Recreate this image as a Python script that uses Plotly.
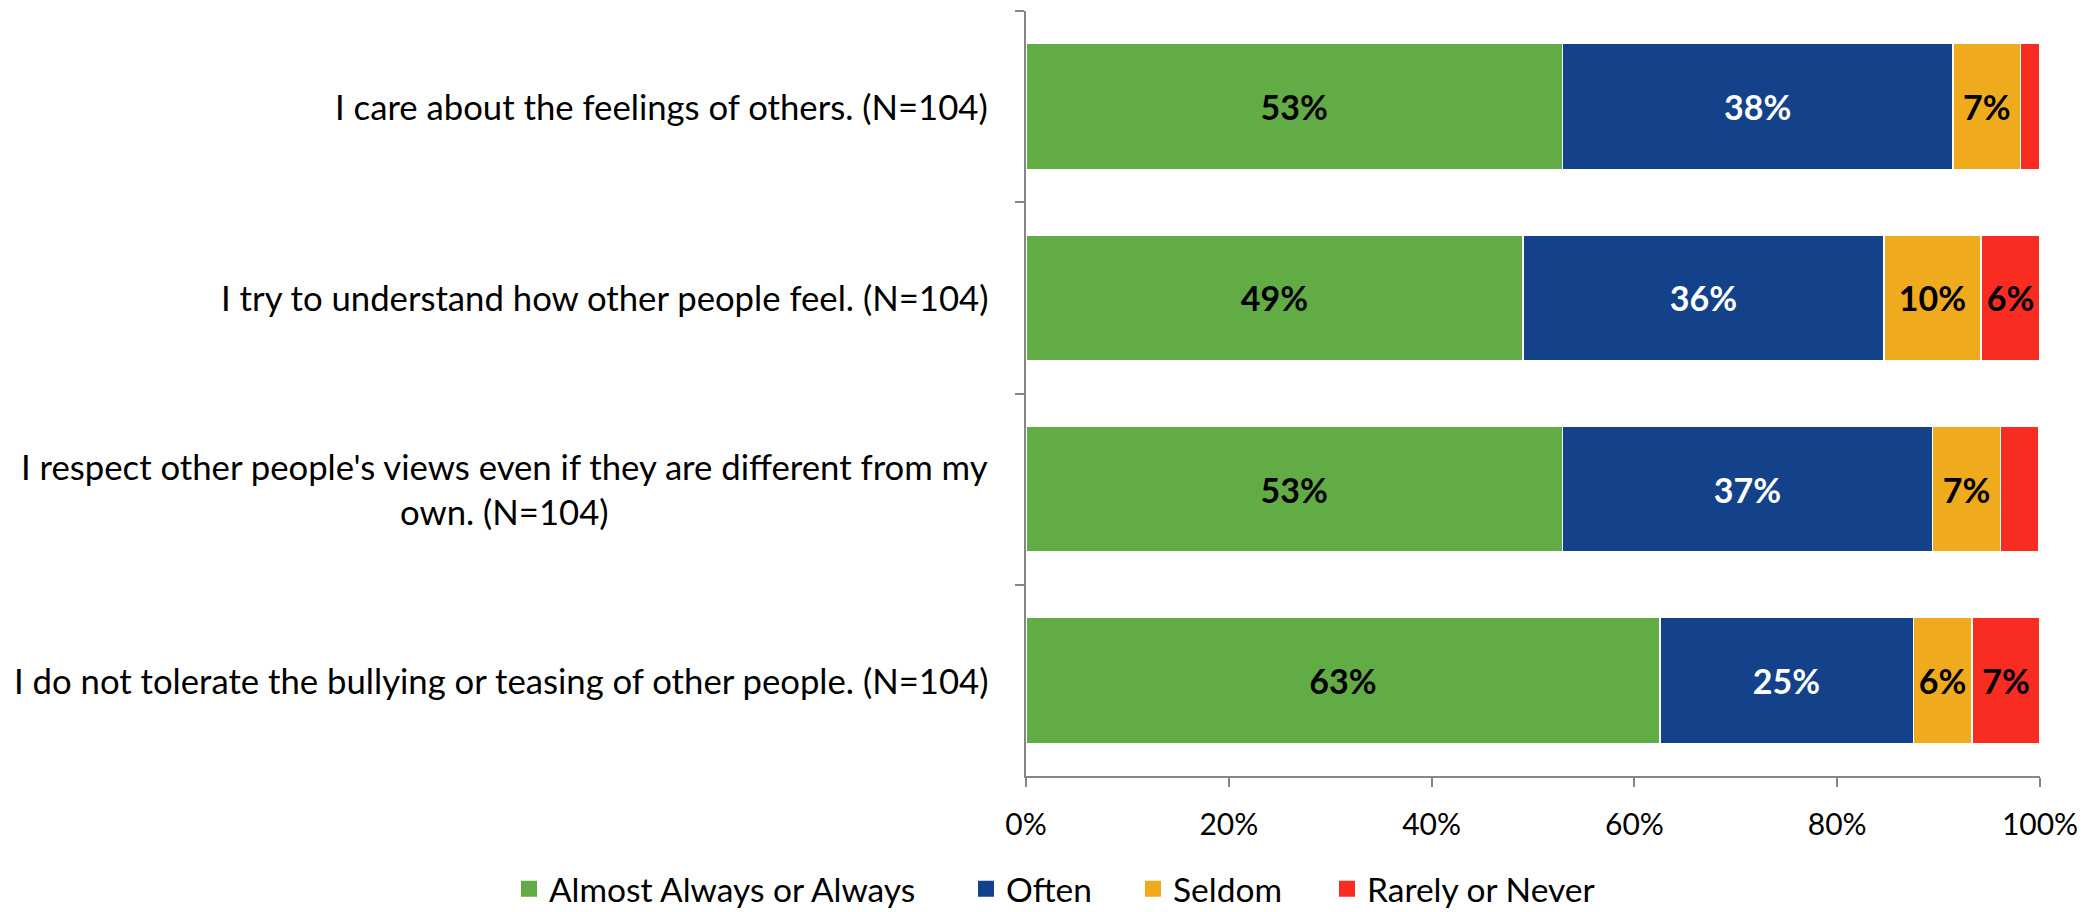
import plotly.graph_objects as go

categories = [
    "I care about the feelings of others. (N=104)",
    "I try to understand how other people feel. (N=104)",
    "I respect other people's views even if they are different from my<br>own. (N=104)",
    "I do not tolerate the bullying or teasing of other people. (N=104)",
]
series_names = ["Almost Always or Always", "Often", "Seldom", "Rarely or Never"]
almost_always = [52.9, 49.0, 52.9, 62.5]
often = [38.5, 35.6, 36.5, 25.0]
seldom = [6.7, 9.6, 6.7, 5.8]
rarely = [1.9, 5.8, 3.8, 6.7]
labels_almost = ["53%", "49%", "53%", "63%"]
labels_often = ["38%", "36%", "37%", "25%"]
labels_seldom = ["7%", "10%", "7%", "6%"]
labels_rarely = ["", "6%", "", "7%"]
x_ticks = [0, 20, 40, 60, 80, 100]
x_tick_text = ["0%", "20%", "40%", "60%", "80%", "100%"]

colors = ["#62AC46", "#13428A", "#F0AA1D", "#F92C22"]
text_colors = ["#000000", "#FFFFFF", "#000000", "#000000"]
values = [almost_always, often, seldom, rarely]
labels = [labels_almost, labels_often, labels_seldom, labels_rarely]

FONT = "Lato, 'Open Sans', sans-serif"
FS_CAT = 34.7
FS = 34
FS_LEG = 33.5
FS_TICK = 30
W, H = 2097, 912

# legend entry positions (px from left of page)
legend_text_x = [549, 1006, 1173, 1367]
legend_center_y = 889

fig = go.Figure()
for name, vals, txt, col, tcol in zip(series_names, values, labels, colors, text_colors):
    fig.add_trace(go.Bar(
        y=categories, x=vals, name=name, orientation="h",
        marker=dict(color=col, line=dict(color="white", width=1.5)),
        text=txt, textposition="inside", insidetextanchor="middle", textangle=0,
        textfont=dict(family=FONT, size=FS, color=tcol, weight="bold"),
        cliponaxis=False, hoverinfo="skip", showlegend=False,
    ))

legend_keys = ["legend", "legend2", "legend3", "legend4"]
for name, col, lk in zip(series_names, colors, legend_keys):
    fig.add_trace(go.Scatter(
        x=[None], y=[None], mode="markers", name=name, legend=lk,
        marker=dict(symbol="square", size=16, color=col, line=dict(width=0)),
        hoverinfo="skip", showlegend=True,
    ))

for c in categories:
    fig.add_annotation(
        x=0, xref="paper", y=c, yref="y", text=c, showarrow=False,
        xanchor="right", align="center", xshift=-36,
        font=dict(family=FONT, size=FS_CAT, color="#000000"),
    )

legend_layout = {}
for lk, tx in zip(legend_keys, legend_text_x):
    legend_layout[lk] = dict(
        orientation="h", xref="container", yref="container",
        x=(tx - 40) / W, xanchor="left",
        y=1 - legend_center_y / H, yanchor="middle",
        font=dict(family=FONT, size=FS_LEG, color="#000000"),
        itemsizing="trace", bgcolor="rgba(0,0,0,0)", borderwidth=0,
    )

fig.update_layout(
    barmode="stack",
    bargap=0.34,
    width=W, height=H,
    margin=dict(l=1026, r=57, t=11, b=136),
    paper_bgcolor="white", plot_bgcolor="white",
    font=dict(family=FONT, size=FS, color="#000000"),
    uniformtext=dict(minsize=FS, mode="show"),
    showlegend=True,
    **legend_layout,
)
fig.update_xaxes(
    range=[0, 100], tickvals=x_ticks, ticktext=x_tick_text,
    showgrid=False, zeroline=False, showline=True, linecolor="#868686", linewidth=1.5,
    ticks="outside", ticklen=9, tickcolor="#868686", tickwidth=1.5,
    tickfont=dict(family=FONT, size=FS_TICK, color="#000000"), ticklabelstandoff=12,
)
fig.update_yaxes(
    autorange="reversed", showticklabels=False, tickson="boundaries",
    showgrid=False, zeroline=False, showline=True, linecolor="#868686", linewidth=1.5,
    ticks="outside", ticklen=9, tickcolor="#868686", tickwidth=1.5,
)

fig.write_html(
    "out.html",
    config={"displayModeBar": False},
    post_script="document.body.style.margin='0';document.body.style.overflow='hidden';",
)
